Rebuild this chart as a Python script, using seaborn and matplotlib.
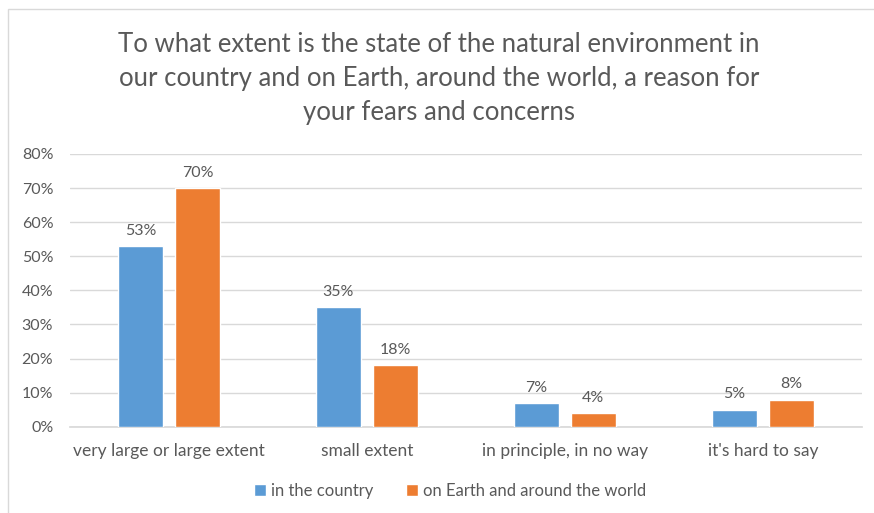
import matplotlib
matplotlib.use("Agg")
import matplotlib.pyplot as plt
import seaborn as sns
import pandas as pd
from matplotlib.patches import Rectangle

categories = ["very large or large extent", "small extent", "in principle, in no way", "it's hard to say"]
series_names = ["in the country", "on Earth and around the world"]
country_values = [53, 35, 7, 5]
earth_values = [70, 18, 4, 8]
y_ticks = [0, 10, 20, 30, 40, 50, 60, 70, 80]
title = "To what extent is the state of the natural environment in\nour country and on Earth, around the world, a reason for\nyour fears and concerns"

sns.set_theme(style="white")
plt.rcParams['font.family'] = ['Lato', 'DejaVu Sans']

df = pd.DataFrame({
    "category": categories * 2,
    "series": [series_names[0]] * 4 + [series_names[1]] * 4,
    "value": country_values + earth_values,
})

text_color = "#595959"
fig = plt.figure(figsize=(8.74, 5.13), dpi=100)
ax = fig.add_axes([0.080, 0.168, 0.906, 0.532])

sns.barplot(data=df, x="category", y="value", hue="series",
            palette=["#5B9BD5", "#ED7D31"], width=0.576, gap=0.21,
            ax=ax, saturation=1, legend=True, zorder=3)

for cont in ax.containers:
    ax.bar_label(cont, labels=[f"{v:.0f}%" for v in cont.datavalues],
                 padding=6, fontsize=11.5, color=text_color)

ax.set_ylim(0, 80)
ax.set_yticks(y_ticks)
ax.set_yticklabels([f"{t}%" for t in y_ticks], fontsize=11.5, color=text_color)
ax.tick_params(axis='x', labelsize=12.5, colors=text_color, length=0, pad=12)
ax.tick_params(axis='y', length=0, pad=12)
ax.set_xlabel("")
ax.set_ylabel("")
ax.grid(axis='y', color="#D9D9D9", linewidth=1, zorder=0)
for s in ["top", "right", "left"]:
    ax.spines[s].set_visible(False)
ax.spines["bottom"].set_color("#D9D9D9")

leg = ax.legend(loc="center", bbox_to_anchor=(450 / 874, 1 - 491 / 513),
                bbox_transform=fig.transFigure, ncol=2, frameon=False,
                fontsize=12, handlelength=0.7, handleheight=0.7,
                columnspacing=2.0, handletextpad=0.3)
for t in leg.get_texts():
    t.set_color(text_color)

fig.text(0.502, 1 - 79 / 513, title, ha="center", va="center",
         fontsize=18.5, color=text_color, linespacing=1.45)

fig.patches.append(Rectangle((8 / 874, -0.1), 1.2, 1 - 9 / 513 + 0.1,
                             transform=fig.transFigure, fill=False,
                             edgecolor="#D9D9D9", linewidth=1))

fig.savefig("out.png", dpi=100)
